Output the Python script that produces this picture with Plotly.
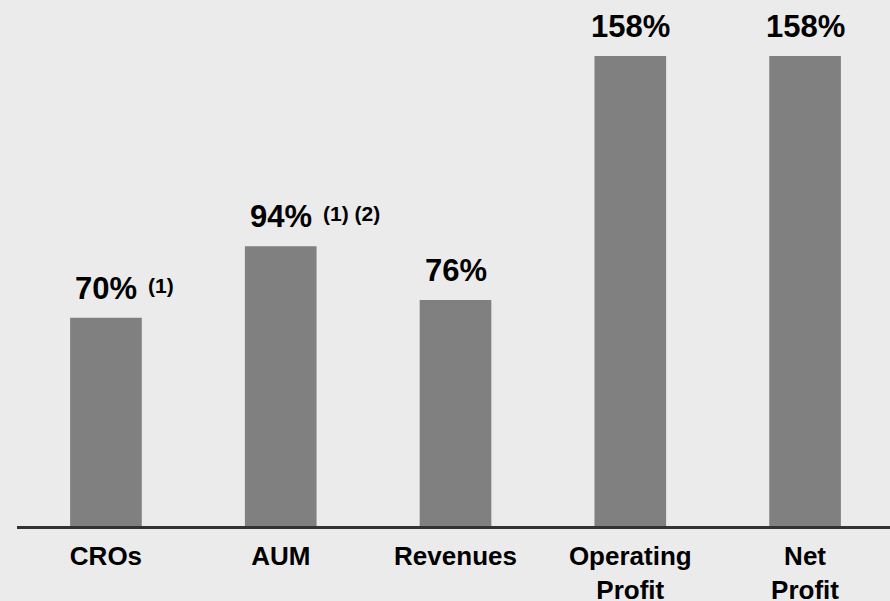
import plotly.graph_objects as go

categories = ["CROs", "AUM", "Revenues", "Operating<br>Profit", "Net<br>Profit"]
values = [70, 94, 76, 158, 158]
value_labels = ["70%", "94%", "76%", "158%", "158%"]
footnotes = ["(1)", "(1) (2)", "", "", ""]

FONT = "Liberation Sans, Arial, Helvetica, sans-serif"
BG = "#EBEBEB"

fig = go.Figure()
fig.add_trace(go.Bar(
    x=list(range(len(categories))),
    y=values,
    width=0.41,
    marker=dict(color="#808080", line=dict(width=0)),
    hoverinfo="skip",
))

annotations = []
for i, (v, lab, fn) in enumerate(zip(values, value_labels, footnotes)):
    annotations.append(dict(
        x=i, y=v, xref="x", yref="y", text=lab, showarrow=False,
        xanchor="center", yanchor="bottom", yshift=10,
        font=dict(family=FONT, size=31, color="#000000", weight="bold"),
    ))
    if fn:
        annotations.append(dict(
            x=i, y=v, xref="x", yref="y", text=fn, showarrow=False,
            xanchor="left", yanchor="bottom", xshift=40, yshift=19,
            font=dict(family=FONT, size=21, color="#000000", weight="bold"),
        ))

fig.update_layout(
    width=890, height=601,
    margin=dict(l=17, r=0, t=0, b=75, autoexpand=False),
    paper_bgcolor=BG, plot_bgcolor=BG,
    showlegend=False,
    annotations=annotations,
    xaxis=dict(
        tickmode="array",
        tickvals=list(range(len(categories))),
        ticktext=categories,
        range=[-0.509, 4.486],
        automargin=False,
        showline=True, linecolor="#333333", linewidth=3,
        showgrid=False, zeroline=False, ticks="",
        ticklabelstandoff=5,
        tickfont=dict(family=FONT, size=26, color="#000000", weight="bold"),
        fixedrange=True,
    ),
    yaxis=dict(
        range=[0, 176.8], visible=False, showgrid=False, zeroline=False,
        automargin=False, fixedrange=True,
    ),
)

fig.write_html(
    "out.html",
    config={"displayModeBar": False},
    post_script="document.body.style.margin='0';document.body.style.overflow='hidden';document.body.style.background='" + BG + "';",
)
